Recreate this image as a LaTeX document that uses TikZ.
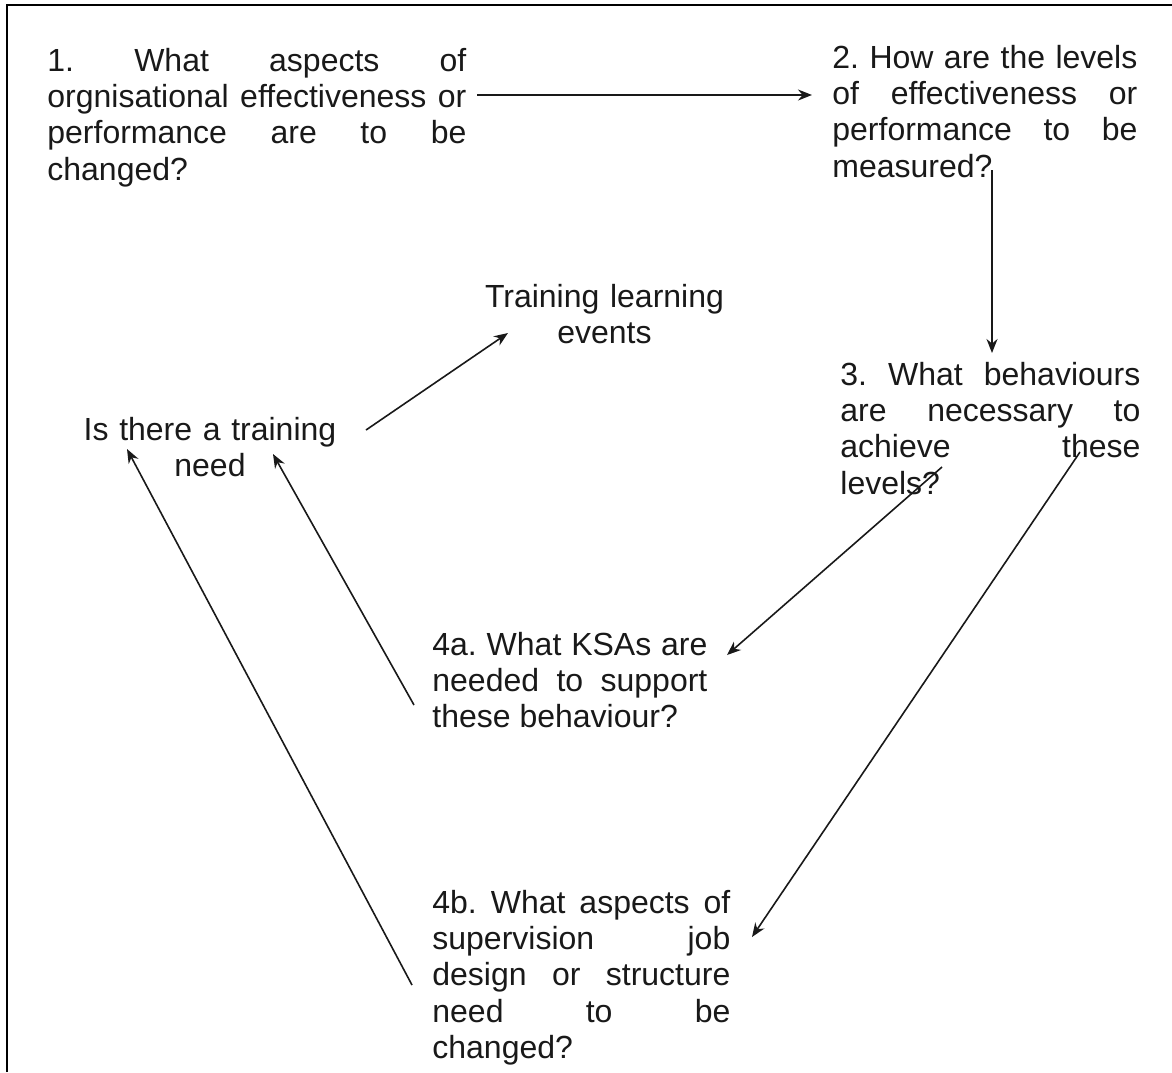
\documentclass[tikz,border=0pt]{standalone}
\usepackage{fontspec}
\setmainfont{Liberation Sans}
\usetikzlibrary{arrows.meta}
\frenchspacing
\tikzset{
  qtext/.style={anchor=base west, inner sep=0pt, text width=#1, align=justify,
    font=\fontsize{16pt}{18.2pt}\selectfont, text=black!90},
  ctext/.style={anchor=base, inner sep=0pt, text width=140pt, align=center,
    font=\fontsize{16pt}{18.2pt}\selectfont, text=black!90},
  link/.style={-{Stealth[length=7pt,width=5.5pt]}, line width=0.8pt, draw=black!90}
}
\begin{document}
\begin{tikzpicture}[x=0.5pt,y=-0.5pt]
  \useasboundingbox (0,0) rectangle (1172,1072);
  \draw[line width=1pt] (7,1072) -- (7,5) -- (1172,5);
  % questions
  \node[qtext=209.5pt] (q1) at (47,71) {1. What aspects of\linebreak orgnisational effectiveness or\linebreak performance are to be\linebreak changed?};
  \node[qtext=152.5pt] (q2) at (832,68) {2. How are the levels\linebreak of effectiveness or\linebreak performance to be\linebreak measured?};
  \node[qtext=150pt] (q3) at (840,385) {3. What behaviours\linebreak are necessary to\linebreak achieve these\linebreak levels?};
  \node[qtext=137.5pt] (q4a) at (432,655) {4a. What KSAs are\linebreak needed to support\linebreak these behaviour?};
  \node[qtext=149pt] (q4b) at (432,913) {4b. What aspects of\linebreak supervision job\linebreak design or structure\linebreak need to be\linebreak changed?};
  \node[ctext] (need) at (210,440) {Is there a training\\need};
  \node[ctext] (events) at (604.5,307) {Training learning\\events};
  % connector ends
  \coordinate (q1out) at (477,95);
  \coordinate (q2in) at (812,95);
  \coordinate (q2out) at (992,170);
  \coordinate (q3in) at (992,353);
  \coordinate (q3outa) at (942,467);
  \coordinate (q3outb) at (1080,452);
  \coordinate (q4ain) at (727,655);
  \coordinate (q4aout) at (414,705);
  \coordinate (q4bin) at (752,937);
  \coordinate (q4bout) at (412,985);
  \coordinate (needina) at (273,454);
  \coordinate (needinb) at (127,449);
  \coordinate (needout) at (366,430);
  \coordinate (eventsin) at (508,333);
  \draw[link] (q1out) -- (q2in);
  \draw[link] (q2out) -- (q3in);
  \draw[link] (q3outa) -- (q4ain);
  \draw[link] (q3outb) -- (q4bin);
  \draw[link] (q4aout) -- (needina);
  \draw[link] (q4bout) -- (needinb);
  \draw[link] (needout) -- (eventsin);
\end{tikzpicture}
\end{document}
